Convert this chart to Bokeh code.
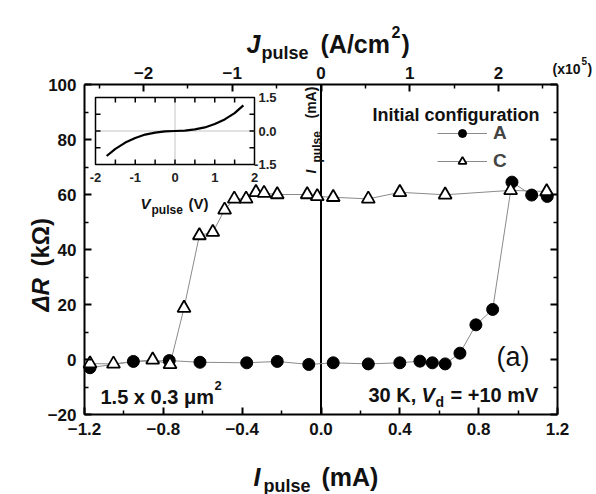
import math
from bokeh.plotting import figure
from bokeh.models import (Range1d, LinearAxis, FixedTicker, CustomJSTickFormatter,
                          Label, ColumnDataSource, Legend, LegendItem)
from bokeh.core.properties import value
from bokeh.embed import file_html
from bokeh.resources import INLINE

# ---------------- data ----------------
I_A = [-1.172, -0.952, -0.770, -0.614, -0.377, -0.222, -0.062, 0.062, 0.240, 0.400,
       0.502, 0.565, 0.630, 0.705, 0.786, 0.871, 0.969, 1.069, 1.148]
R_A = [-3.0, -0.7, -0.4, -1.0, -1.2, -0.7, -1.8, -1.2, -1.6, -1.2,
       -0.6, -1.2, -1.6, 2.3, 12.6, 18.2, 64.5, 59.8, 59.3]
I_C = [-1.172, -1.053, -0.854, -0.766, -0.695, -0.617, -0.549, -0.489, -0.440, -0.380,
       -0.330, -0.289, -0.222, -0.070, -0.019, 0.062, 0.240, 0.400, 0.630, 0.962, 1.145]
R_C = [-1.5, -1.6, -0.1, -1.8, 18.7, 45.1, 46.3, 54.4, 58.4, 58.4,
       60.8, 60.5, 60.0, 60.0, 59.3, 59.0, 58.4, 60.8, 59.9, 61.5, 61.1]

# inset I-V curve
V_in = [-1.72, -1.5, -1.25, -1.0, -0.75, -0.5, -0.25, 0.0, 0.25, 0.5, 0.75, 1.0, 1.25, 1.5, 1.72]
Iin = [-1.12, -0.80, -0.52, -0.31, -0.16, -0.07, -0.02, 0.0, 0.02, 0.07, 0.16, 0.31, 0.52, 0.80, 1.15]

x_ticks = [-1.2, -0.8, -0.4, 0.0, 0.4, 0.8, 1.2]
x_minor = [-1.0, -0.6, -0.2, 0.2, 0.6, 1.0]
y_ticks = [-20, 0, 20, 40, 60, 80, 100]
y_minor = [-10, 10, 30, 50, 70, 90]
j_ticks = [-2, -1, 0, 1, 2]
j_minor = [-2.5, -1.5, -0.5, 0.5, 1.5, 2.5]
area_um2 = 1.5 * 0.3          # junction area (um^2)
j_factor = 1e-3 / (area_um2 * 1e-8) / 1e5   # mA -> (x1e5 A/cm2)

in_v_ticks = [-2, -1, 0, 1, 2]
in_v_minor = [-1.5, -0.5, 0.5, 1.5]
in_i_ticks = [-1.5, 0.0, 1.5]
in_i_minor = [-0.75, 0.75]

X0, X1 = x_ticks[0], x_ticks[-1]
Y0, Y1 = y_ticks[0], y_ticks[-1]

FONT = "Liberation Sans"

# ---------------- geometry (canvas px of the data frame) ----------------
W, H = 596, 494
FL, FR, FT, FB = 84, 557, 84, 414
def dx(px):
    return X0 + (px - FL) / (FR - FL) * (X1 - X0)
def dy(py):
    return Y1 - (py - FT) / (FB - FT) * (Y1 - Y0)

p = figure(width=W, height=H, x_range=Range1d(dx(0), dx(W)), y_range=Range1d(dy(H), dy(0)),
           output_backend="svg", toolbar_location=None,
           min_border_left=0, min_border_right=0, min_border_top=0, min_border_bottom=0)
p.axis.visible = False
p.grid.visible = False
p.outline_line_color = None
p.background_fill_color = "white"
p.border_fill_color = "white"

def style_axis(ax, label_size="17px"):
    ax.axis_line_width = 2
    ax.major_tick_in = 7
    ax.major_tick_out = 0
    ax.minor_tick_in = 4
    ax.minor_tick_out = 0
    ax.major_tick_line_width = 2
    ax.minor_tick_line_width = 1.5
    ax.major_label_text_font = FONT
    ax.major_label_text_font_style = "bold"
    ax.major_label_text_font_size = label_size
    ax.major_label_text_color = "#111111"

minus_fmt1 = CustomJSTickFormatter(code="return (tick < -1e-9 ? '\\u2212' : '') + Math.abs(tick).toFixed(1);")
minus_fmt0 = CustomJSTickFormatter(code="return (tick < -1e-9 ? '\\u2212' : '') + Math.abs(tick).toFixed(0);")
blank_fmt = CustomJSTickFormatter(code="return '';")

bottom = LinearAxis(ticker=FixedTicker(ticks=x_ticks, minor_ticks=x_minor), formatter=minus_fmt1,
                    fixed_location=Y0, bounds=(X0, X1))
style_axis(bottom)
bottom.major_label_standoff = 8
p.add_layout(bottom, "below")

left = LinearAxis(ticker=FixedTicker(ticks=y_ticks, minor_ticks=y_minor), formatter=minus_fmt0,
                  fixed_location=X0, bounds=(Y0, Y1))
style_axis(left)
left.major_label_standoff = 8
p.add_layout(left, "left")

p.extra_x_ranges = {"J": Range1d(dx(0) * j_factor, dx(W) * j_factor)}
top = LinearAxis(x_range_name="J", ticker=FixedTicker(ticks=j_ticks, minor_ticks=j_minor),
                 formatter=minus_fmt0, fixed_location=Y1, bounds=(X0 * j_factor, X1 * j_factor))
style_axis(top)
top.major_label_standoff = 6
p.add_layout(top, "above")

right = LinearAxis(ticker=FixedTicker(ticks=y_ticks, minor_ticks=y_minor), formatter=blank_fmt,
                   fixed_location=X1, bounds=(Y0, Y1))
style_axis(right)
p.add_layout(right, "right")

# zero line
p.line([0, 0], [Y0, Y1], line_color="black", line_width=2)

# ---------------- data series ----------------
srcA = ColumnDataSource(dict(x=I_A, y=R_A))
srcC = ColumnDataSource(dict(x=I_C, y=R_C))
lC = p.line("x", "y", source=srcC, line_color="#8a8a8a", line_width=1)
lA = p.line("x", "y", source=srcA, line_color="#8a8a8a", line_width=1)
sA = p.scatter("x", "y", source=srcA, marker="circle", size=12, fill_color="black", line_color="black")
sC = p.scatter("x", "y", source=srcC, marker="triangle", size=13, fill_color="white",
               line_color="black", line_width=1.8)

legend = Legend(items=[LegendItem(label="A", renderers=[lA, sA]),
                       LegendItem(label="C", renderers=[lC, sC])],
                location=(437, H - 172), glyph_width=50, glyph_height=20,
                label_height=20, spacing=6, padding=0, margin=0,
                border_line_alpha=0, background_fill_alpha=0,
                label_text_font=FONT, label_text_font_style="bold",
                label_text_font_size="19px", label_standoff=6)
p.add_layout(legend)

# ---------------- inset ----------------
IL, IR, IT, IB = 95, 254, 97, 164
def vmap(px):
    return -2 + (px - IL) / (IR - IL) * 4
def imap(py):
    return 1.5 - (py - IT) / (IB - IT) * 3
p.extra_x_ranges["V"] = Range1d(vmap(0), vmap(W))
p.extra_y_ranges = {"Iin": Range1d(imap(H), imap(0))}
kw = dict(x_range_name="V", y_range_name="Iin")
p.quad(left=in_v_ticks[0], right=in_v_ticks[-1], bottom=in_i_ticks[0], top=in_i_ticks[-1],
       fill_color="white", line_color="black", line_width=1.5, **kw)
p.line([in_v_ticks[0], in_v_ticks[-1]], [0, 0], line_color="#888888", line_dash="1 1", line_width=1, **kw)
p.line([0, 0], [in_i_ticks[0], in_i_ticks[-1]], line_color="#888888", line_dash="1 1", line_width=1, **kw)
# inset ticks
tvx = in_v_ticks[1:-1] + in_v_minor
tl_v = 5 * 3 / (IB - IT)
p.segment(x0=tvx, y0=[1.5] * len(tvx), x1=tvx, y1=[1.5 - tl_v] * len(tvx), line_color="black", line_width=1.5, **kw)
p.segment(x0=tvx, y0=[-1.5] * len(tvx), x1=tvx, y1=[-1.5 + tl_v] * len(tvx), line_color="black", line_width=1.5, **kw)
tiy = [0.0] + in_i_minor
tl_i = 5 * 4 / (IR - IL)
p.segment(x0=[-2] * len(tiy), y0=tiy, x1=[-2 + tl_i] * len(tiy), y1=tiy, line_color="black", line_width=1.5, **kw)
p.segment(x0=[2] * len(tiy), y0=tiy, x1=[2 - tl_i] * len(tiy), y1=tiy, line_color="black", line_width=1.5, **kw)
p.line(V_in, Iin, line_color="black", line_width=2.2, **kw)
# inset tick labels
p.text(x=in_v_ticks, y=[in_i_ticks[0]] * len(in_v_ticks), text=[str(v) for v in in_v_ticks], y_offset=8,
       text_align="center", text_baseline="top", text_font=value(FONT),
       text_font_size="13px", text_font_style="bold", text_color="#222222", **kw)
p.text(x=[in_v_ticks[-1]] * 3, y=in_i_ticks, text=["%.1f" % v for v in in_i_ticks], x_offset=22,
       text_align="right", text_baseline="middle", text_font=value(FONT),
       text_font_size="13px", text_font_style="bold", text_color="#222222", **kw)

# ---------------- texts ----------------
def lab(text, px, py, size, style="bold", align="left", baseline="alphabetic", angle=0.0, color="#111111"):
    p.add_layout(Label(x=dx(px), y=dy(py), text=text, text_font=FONT, text_font_size=size,
                       text_font_style=style, text_align=align, text_baseline=baseline,
                       angle=angle, text_color=color))

# top title  J_pulse (A/cm2)
lab("J", 246, 43, "25px", "bold italic")
lab("pulse", 261, 52, "18px")
lab("(A/cm", 320, 43, "25px")
lab("2", 391, 31, "16px")
lab(")", 401, 43, "25px")
# (x10^5)
lab("(x10", 552, 68, "14px")
lab("5", 581, 60, "10px")
lab(")", 587, 68, "14px")
# bottom title I_pulse (mA)
lab("I", 253, 476, "25px", "bold italic")
lab("pulse", 263, 485, "18px")
lab("(mA)", 321, 476, "25px")
# y title
half = math.pi / 2
lab("\u0394R", 40, 311, "24px", "bold italic", angle=half)
lab("(k\u03a9)", 40, 266, "24px", angle=half)
# legend title
lab("Initial configuration", 372, 114, "18px")
# annotations
lab("(a)", 496, 356, "27px", "normal")
lab("1.5 x 0.3 \u03bcm", 100, 396, "20px")
lab("2", 214, 385, "13px")
lab("30 K,", 368, 394, "20px")
lab("V", 421, 394, "20px", "bold italic")
lab("d", 435, 401, "14px")
lab("= +10 mV", 450, 394, "20px")
# inset axis titles
lab("V", 140, 203, "15px", "bold italic")
lab("pulse", 151, 209, "12px")
lab("(V)", 188, 203, "15px")
lab("I", 310, 173, "14px", "bold italic", angle=half)
lab("pulse", 316, 162, "12px", angle=half)
lab("(mA)", 310, 118, "14px", angle=half)

open("out.html", "w").write(file_html(p, INLINE))
